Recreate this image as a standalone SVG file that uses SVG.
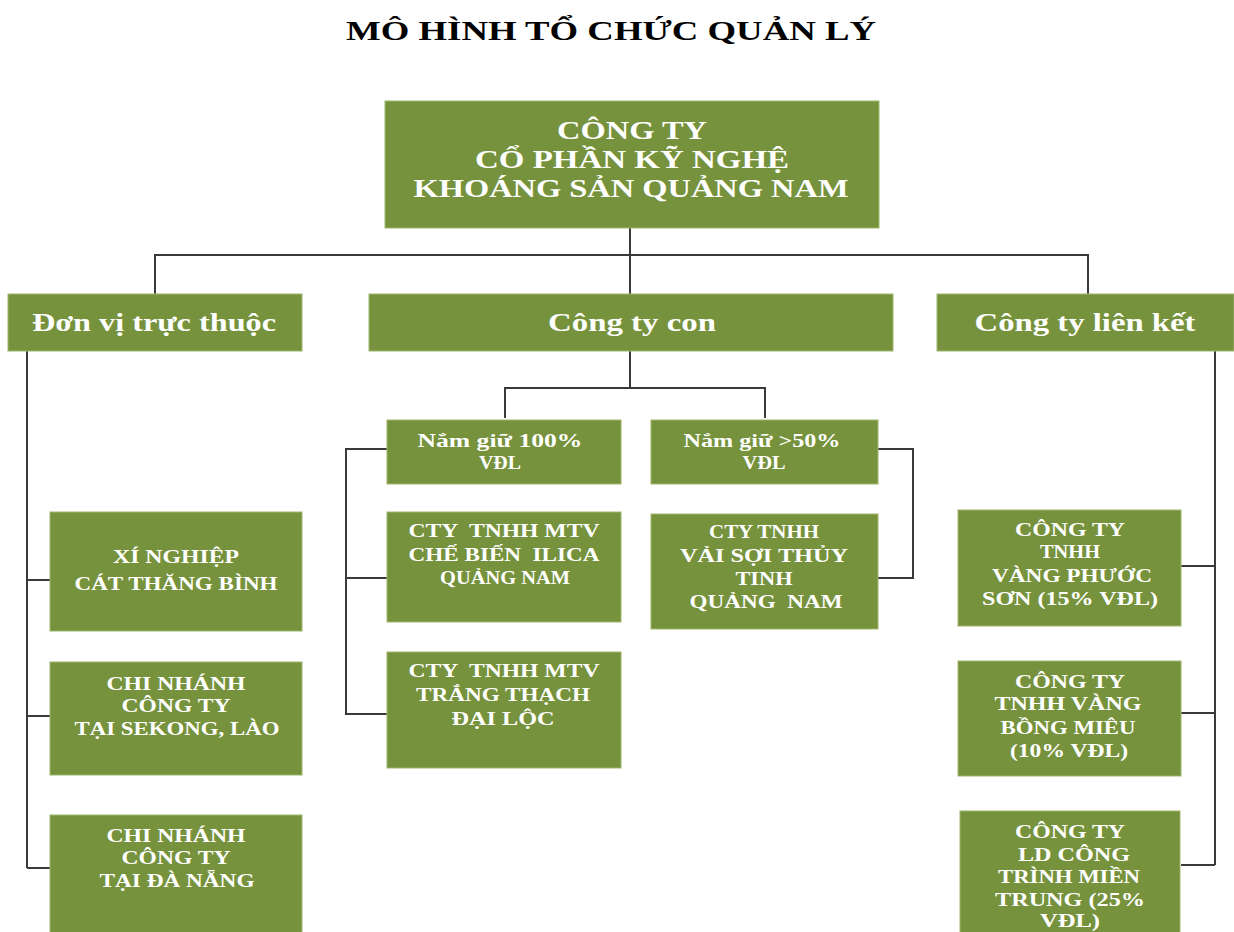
<svg xmlns="http://www.w3.org/2000/svg" width="1234" height="932" viewBox="0 0 1234 932">
<style>
.box{fill:#76923C;stroke:#9fb56e;stroke-width:1}
.t{font-family:"Liberation Serif","Times New Roman",serif;font-weight:bold;fill:#ffffff;text-anchor:middle;white-space:pre}
.title{font-family:"Liberation Serif","Times New Roman",serif;font-weight:bold;fill:#000000;text-anchor:middle;font-size:28px}
.c{fill:none;stroke:#3a3a3a;stroke-width:2}
</style>
<rect width="1234" height="932" fill="#ffffff"/>
<text class="title" x="611" y="40" textLength="530" lengthAdjust="spacingAndGlyphs">MÔ HÌNH TỔ CHỨC QUẢN LÝ</text>

<g id="connectors">
<path class="c" d="M630 228 V294 M155 294 V255 H1088 V294"/>
<path class="c" d="M630 351 V388 M505 418 V388 H765 V418"/>
<path class="c" d="M27 351 V868 M27 580 H50 M27 716 H50 M27 868 H50"/>
<path class="c" d="M387 449 H346 V714 H387 M346 578 H387"/>
<path class="c" d="M878 449 H913 V578 H878"/>
<path class="c" d="M1215 351 V865 M1181 566 H1215 M1181 713 H1215 M1181 865 H1215"/>
</g>

<g id="root">
<rect class="box" x="385" y="101" width="494" height="127"/>
<text class="t" font-size="25" x="632" y="139" textLength="150" lengthAdjust="spacingAndGlyphs">CÔNG TY</text>
<text class="t" font-size="25" x="632" y="168" textLength="314" lengthAdjust="spacingAndGlyphs">CỔ PHẦN KỸ NGHỆ</text>
<text class="t" font-size="25" x="631" y="197" textLength="435" lengthAdjust="spacingAndGlyphs">KHOÁNG SẢN QUẢNG NAM</text>
</g>

<g id="don-vi-truc-thuoc">
<rect class="box" x="8" y="294" width="294" height="57"/>
<text class="t" font-size="25" x="154" y="331" textLength="244" lengthAdjust="spacingAndGlyphs">Đơn vị trực thuộc</text>
</g>
<g id="cong-ty-con">
<rect class="box" x="369" y="294" width="524" height="57"/>
<text class="t" font-size="25" x="632" y="331" textLength="168" lengthAdjust="spacingAndGlyphs">Công ty con</text>
</g>
<g id="cong-ty-lien-ket">
<rect class="box" x="937" y="294" width="297" height="57"/>
<text class="t" font-size="25" x="1085" y="331" textLength="221" lengthAdjust="spacingAndGlyphs">Công ty liên kết</text>
</g>

<g id="nam-giu-100">
<rect class="box" x="387" y="420" width="234" height="64"/>
<text class="t" font-size="18" x="500" y="447" textLength="165" lengthAdjust="spacingAndGlyphs">Nắm giữ 100%</text>
<text class="t" font-size="18" x="500" y="469" textLength="42" lengthAdjust="spacingAndGlyphs">VĐL</text>
</g>
<g id="nam-giu-50">
<rect class="box" x="651" y="420" width="227" height="64"/>
<text class="t" font-size="18" x="762" y="447" textLength="157" lengthAdjust="spacingAndGlyphs">Nắm giữ &gt;50%</text>
<text class="t" font-size="18" x="764" y="469" textLength="43" lengthAdjust="spacingAndGlyphs">VĐL</text>
</g>

<g id="cty-che-bien-ilica">
<rect class="box" x="387" y="512" width="234" height="110"/>
<text class="t" font-size="19" x="504" y="537" textLength="191" lengthAdjust="spacingAndGlyphs">CTY  TNHH MTV</text>
<text class="t" font-size="19" x="504" y="561" textLength="191" lengthAdjust="spacingAndGlyphs">CHẾ BIẾN  ILICA</text>
<text class="t" font-size="19" x="505" y="584" textLength="130" lengthAdjust="spacingAndGlyphs">QUẢNG NAM</text>
</g>
<g id="cty-trang-thach">
<rect class="box" x="387" y="652" width="234" height="116"/>
<text class="t" font-size="19" x="504" y="677" textLength="191" lengthAdjust="spacingAndGlyphs">CTY  TNHH MTV</text>
<text class="t" font-size="19" x="503" y="701" textLength="174" lengthAdjust="spacingAndGlyphs">TRẮNG THẠCH</text>
<text class="t" font-size="19" x="503" y="725" textLength="103" lengthAdjust="spacingAndGlyphs">ĐẠI LỘC</text>
</g>
<g id="cty-vai-soi">
<rect class="box" x="651" y="514" width="227" height="115"/>
<text class="t" font-size="19" x="764" y="538" textLength="110" lengthAdjust="spacingAndGlyphs">CTY TNHH</text>
<text class="t" font-size="19" x="764" y="562" textLength="168" lengthAdjust="spacingAndGlyphs">VẢI SỢI THỦY</text>
<text class="t" font-size="19" x="764" y="585" textLength="57" lengthAdjust="spacingAndGlyphs">TINH</text>
<text class="t" font-size="19" x="766" y="608" textLength="153" lengthAdjust="spacingAndGlyphs">QUẢNG  NAM</text>
</g>

<g id="xi-nghiep">
<rect class="box" x="50" y="512" width="252" height="119"/>
<text class="t" font-size="19" x="176" y="563" textLength="126" lengthAdjust="spacingAndGlyphs">XÍ NGHIỆP</text>
<text class="t" font-size="19" x="176" y="590" textLength="203" lengthAdjust="spacingAndGlyphs">CÁT THĂNG BÌNH</text>
</g>
<g id="chi-nhanh-sekong">
<rect class="box" x="50" y="662" width="252" height="113"/>
<text class="t" font-size="19" x="176" y="690" textLength="139" lengthAdjust="spacingAndGlyphs">CHI NHÁNH</text>
<text class="t" font-size="19" x="176" y="712" textLength="109" lengthAdjust="spacingAndGlyphs">CÔNG TY</text>
<text class="t" font-size="19" x="177" y="735" textLength="205" lengthAdjust="spacingAndGlyphs">TẠI SEKONG, LÀO</text>
</g>
<g id="chi-nhanh-da-nang">
<rect class="box" x="50" y="815" width="252" height="118"/>
<text class="t" font-size="19" x="176" y="842" textLength="139" lengthAdjust="spacingAndGlyphs">CHI NHÁNH</text>
<text class="t" font-size="19" x="176" y="864" textLength="109" lengthAdjust="spacingAndGlyphs">CÔNG TY</text>
<text class="t" font-size="19" x="177" y="887" textLength="155" lengthAdjust="spacingAndGlyphs">TẠI ĐÀ NẴNG</text>
</g>

<g id="vang-phuoc-son">
<rect class="box" x="958" y="510" width="223" height="116"/>
<text class="t" font-size="19" x="1070" y="536" textLength="110" lengthAdjust="spacingAndGlyphs">CÔNG TY</text>
<text class="t" font-size="19" x="1070" y="558" textLength="60" lengthAdjust="spacingAndGlyphs">TNHH</text>
<text class="t" font-size="19" x="1072" y="582" textLength="160" lengthAdjust="spacingAndGlyphs">VÀNG PHƯỚC</text>
<text class="t" font-size="19" x="1070" y="605" textLength="176" lengthAdjust="spacingAndGlyphs">SƠN (15% VĐL)</text>
</g>
<g id="vang-bong-mieu">
<rect class="box" x="958" y="661" width="223" height="115"/>
<text class="t" font-size="19" x="1070" y="688" textLength="110" lengthAdjust="spacingAndGlyphs">CÔNG TY</text>
<text class="t" font-size="19" x="1068" y="710" textLength="147" lengthAdjust="spacingAndGlyphs">TNHH VÀNG</text>
<text class="t" font-size="19" x="1068" y="734" textLength="135" lengthAdjust="spacingAndGlyphs">BỒNG MIÊU</text>
<text class="t" font-size="19" x="1069" y="757" textLength="118" lengthAdjust="spacingAndGlyphs">(10% VĐL)</text>
</g>
<g id="ld-cong-trinh">
<rect class="box" x="960" y="811" width="220" height="122"/>
<text class="t" font-size="19" x="1070" y="838" textLength="110" lengthAdjust="spacingAndGlyphs">CÔNG TY</text>
<text class="t" font-size="19" x="1074" y="861" textLength="112" lengthAdjust="spacingAndGlyphs">LD CÔNG</text>
<text class="t" font-size="19" x="1069" y="883" textLength="142" lengthAdjust="spacingAndGlyphs">TRÌNH MIỀN</text>
<text class="t" font-size="19" x="1070" y="906" textLength="150" lengthAdjust="spacingAndGlyphs">TRUNG (25%</text>
<text class="t" font-size="19" x="1070" y="927" textLength="60" lengthAdjust="spacingAndGlyphs">VĐL)</text>
</g>
</svg>
